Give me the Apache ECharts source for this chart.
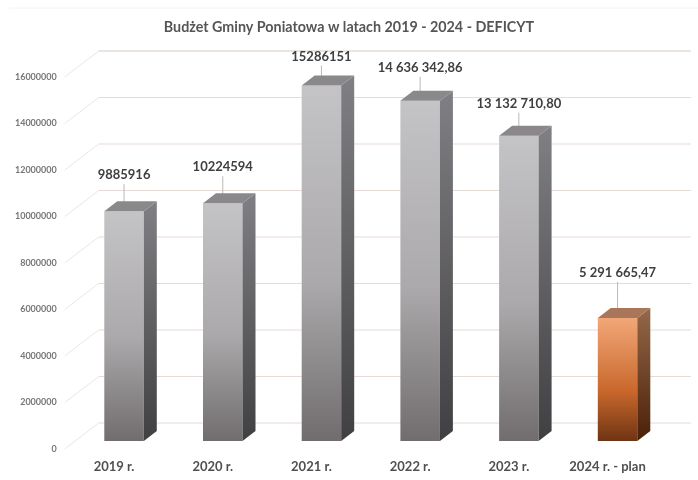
<!DOCTYPE html>
<html><head><meta charset="utf-8">
<style>html,body{margin:0;padding:0;background:#fff}#c{width:698px;height:480px}</style>
<script src="https://cdn.jsdelivr.net/npm/echarts@6/dist/echarts.min.js"></script>
</head><body><div id="c"></div>
<script>
const categories = ['2019 r.','2020 r.','2021 r.','2022 r.','2023 r.','2024 r. - plan'];
const values = [9885916,10224594,15286151,14636342.86,13132710.80,5291665.47];
const valueLabels = ['9885916','10224594','15286151','14 636 342,86','13 132 710,80','5 291 665,47'];
const ticks = [0,2000000,4000000,6000000,8000000,10000000,12000000,14000000,16000000];
const titleText = 'Budżet Gminy Poniatowa w latach 2019 - 2024 - DEFICYT';

// pixel layout of the pseudo-3D planes, relative to the axis plane
const FRONT = [10,-8], DEPTH = [13,-10], WALL = [34,-26], BAR_W = 39.5;
const LABEL_LIFT = [36,36,29,33,32,45];
const FONT = 'Lato, "Noto Sans", sans-serif';

const lin = (stops)=>new echarts.graphic.LinearGradient(0,0,0,1,stops.map((c)=>({offset:c[0],color:c[1]})));
const GREY = {
  front:[[0,'#c4c3c5'],[0.55,'#aba9ab'],[1,'#716d6e']],
  side:[[0,'#807f83'],[1,'#403f41']],
  top:'#8a888a'
};
const ORANGE = {
  front:[[0,'#f2a778'],[0.6,'#c8672c'],[1,'#6e3413']],
  side:[[0,'#94684a'],[1,'#4a2007']],
  top:'#a9765a'
};

const chart = echarts.init(document.getElementById('c'),null,{renderer:'canvas'});
chart.setOption({
  backgroundColor:'#ffffff',
  animation:false,
  title:{text:titleText,left:'center',top:15,
    textStyle:{fontFamily:FONT,fontSize:14.3,fontWeight:'bold',color:'#555558'}},
  graphic:[{type:'line',shape:{x1:9,y1:8,x2:698,y2:8},style:{stroke:'#f4f2f1',lineWidth:1},silent:true}],
  grid:{left:64.7,right:41.1,top:77,bottom:31},
  xAxis:{type:'category',data:categories,
    axisLine:{show:false},axisTick:{show:false},splitLine:{show:false},
    axisLabel:{margin:11,fontFamily:FONT,fontSize:13,fontWeight:'bold',color:'#505052',interval:0}},
  yAxis:{type:'value',min:0,max:16000000,interval:2000000,
    axisLine:{show:false},axisTick:{show:false},splitLine:{show:false},
    axisLabel:{margin:8,fontFamily:FONT,fontSize:9,fontWeight:'bold',color:'#77777a',formatter:(v)=>String(v)}},
  series:[
    {type:'custom',z:1,silent:true,data:ticks.map(t=>[0,t]),
     encode:{x:0,y:1},clip:false,
     renderItem(params,api){
       const v=api.value(1);
       const p=api.coord([0,v]);
       const bw=api.size([1,0])[0];
       const x0=p[0]-bw/2;
       const x1=x0+bw*categories.length;
       const top=v===ticks[ticks.length-1];
       return {type:'group',children:[
         {type:'line',shape:{x1:x0,y1:p[1],x2:x0+WALL[0],y2:p[1]+WALL[1]},style:{stroke:'#ebe7e3',lineWidth:1}},
         {type:'line',shape:{x1:x0+WALL[0],y1:p[1]+WALL[1],x2:x1+WALL[0],y2:p[1]+WALL[1]},
           style:{stroke:'#e5dcd7',lineWidth:top?1.6:1.2}}
       ]};
     }},
    {type:'custom',z:2,silent:true,clip:false,
     data:categories.map((c,i)=>[i,values[i]]),
     encode:{x:0,y:1},
     renderItem(params,api){
       const i=api.value(0), v=api.value(1);
       const top=api.coord([i,v]), base=api.coord([i,0]);
       const pal=i===categories.length-1?ORANGE:GREY;
       const xl=top[0]+FRONT[0]-BAR_W/2, xr=xl+BAR_W;
       const yt=top[1]+FRONT[1], yb=base[1]+FRONT[1];
       const dx=DEPTH[0], dy=DEPTH[1];
       const cx=top[0]+FRONT[0];
       const ly=yt-LABEL_LIFT[i];
       return {type:'group',children:[
         {type:'line',shape:{x1:cx,y1:ly+9,x2:cx,y2:yt+dy+1},style:{stroke:'#b9b9b9',lineWidth:1}},
         {type:'rect',shape:{x:xl,y:yt,width:BAR_W,height:yb-yt},style:{fill:lin(pal.front)}},
         {type:'polygon',shape:{points:[[xr,yt],[xr+dx,yt+dy],[xr+dx,yb+dy],[xr,yb]]},style:{fill:lin(pal.side)}},
         {type:'polygon',shape:{points:[[xl,yt],[xl+dx,yt+dy],[xr+dx,yt+dy],[xr,yt]]},style:{fill:pal.top}},
         {type:'text',style:{x:cx,y:ly,text:valueLabels[i],align:'center',verticalAlign:'middle',
           font:'bold 13px '+FONT,fill:'#3f3f42'}}
       ]};
     }}
  ]
});
</script></body></html>
